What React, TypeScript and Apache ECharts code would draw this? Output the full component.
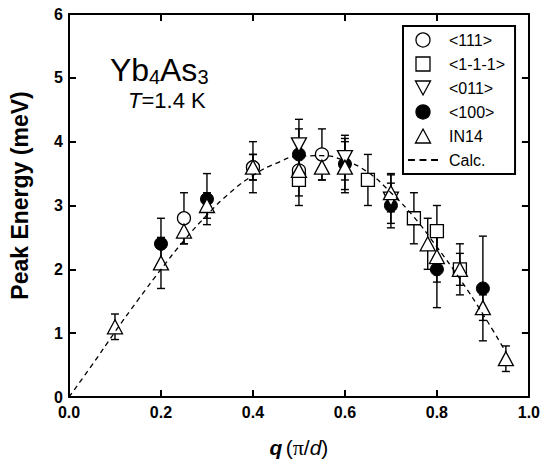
import React, { useEffect, useRef } from 'react';
import * as echarts from 'echarts';

const FONT = 'Liberation Sans, Arial, Helvetica, sans-serif';

// axis ticks
const xTickLabels = ['0.0', '0.2', '0.4', '0.6', '0.8', '1.0'];
const yTickLabels = ['0', '1', '2', '3', '4', '5', '6'];

// <111>
const q111 = [0.25, 0.4, 0.5, 0.55];
const E111 = [2.8, 3.6, 3.55, 3.8];
const err111 = [0.4, 0.4, 0.4, 0.4];

// <1-1-1>
const q1m1m1 = [0.5, 0.65, 0.75, 0.8, 0.85];
const E1m1m1 = [3.4, 3.4, 2.8, 2.6, 2.0];
const err1m1m1 = [0.4, 0.4, 0.4, 0.4, 0.4];

// <011>
const q011 = [0.5, 0.6, 0.7];
const E011 = [3.95, 3.75, 3.1];
const err011 = [0.4, 0.35, 0.38];

// <100>
const q100 = [0.2, 0.3, 0.4, 0.5, 0.6, 0.7, 0.8, 0.9];
const E100 = [2.4, 3.1, 3.6, 3.8, 3.65, 3.0, 2.0, 1.7];
const err100 = [0.4, 0.4, 0.2, 0.4, 0.4, 0.35, 0.6, 0.82];

// IN14
const qIN14 = [0.1, 0.2, 0.25, 0.3, 0.4, 0.5, 0.55, 0.6, 0.7, 0.78, 0.8, 0.85, 0.9, 0.95];
const EIN14 = [1.1, 2.1, 2.6, 3.0, 3.6, 3.55, 3.6, 3.6, 3.2, 2.4, 2.2, 2.0, 1.4, 0.6];
const errIN14 = [0.2, 0.4, 0.2, 0.2, 0.2, 0.2, 0.2, 0.4, 0.3, 0.4, 0.4, 0.25, 0.2, 0.2];

// Calc. (dashed)
const qCalc = [0, 0.05, 0.1, 0.15, 0.2, 0.25, 0.3, 0.35, 0.4, 0.45, 0.5, 0.55, 0.6, 0.65, 0.7, 0.75, 0.8, 0.85, 0.9, 0.95];
const ECalc = [0, 0.5, 1.02, 1.52, 2.0, 2.45, 2.85, 3.2, 3.47, 3.66, 3.77, 3.78, 3.7, 3.52, 3.2, 2.82, 2.35, 1.85, 1.3, 0.7];

const legendNames = ['<111>', '<1-1-1>', '<011>', '<100>', 'IN14', 'Calc.'];

const renderErr = (params: any, api: any) => {
  const x = api.value(0);
  const lo = api.value(1);
  const hi = api.value(2);
  const p1 = api.coord([x, hi]);
  const p2 = api.coord([x, lo]);
  const w = 4;
  const style = { stroke: '#000', lineWidth: 1.4 };
  return {
    type: 'group',
    children: [
      { type: 'line', shape: { x1: p1[0], y1: p1[1], x2: p2[0], y2: p2[1] }, style },
      { type: 'line', shape: { x1: p1[0] - w, y1: p1[1], x2: p1[0] + w, y2: p1[1] }, style },
      { type: 'line', shape: { x1: p2[0] - w, y1: p2[1], x2: p2[0] + w, y2: p2[1] }, style },
    ],
  };
};

const errSeries = (name: string, qs: number[], Es: number[], errs: number[]) => ({
  type: 'custom',
  name,
  silent: true,
  renderItem: renderErr,
  data: qs.map((q, i) => [q, Es[i] - errs[i], Es[i] + errs[i]]),
  encode: { x: 0, y: [1, 2] },
});

const openStyle = { color: '#fff', borderColor: '#000', borderWidth: 1.3, opacity: 1 };

const scatter = (name: string, qs: number[], Es: number[], symbol: string, size: any, itemStyle: any, rotate = 0) => ({
  type: 'scatter',
  name,
  symbol,
  symbolSize: size,
  symbolRotate: rotate,
  itemStyle,
  silent: true,
  data: qs.map((q, i) => [q, Es[i]]),
});

const axisLine = { show: true, onZero: false, lineStyle: { color: '#000', width: 2 } };
const axisTick = { show: true, inside: true, length: 7, lineStyle: { color: '#000', width: 2 } };

const option: any = {
  animation: false,
  backgroundColor: '#fff',
  grid: { left: 69, right: 13, top: 14, bottom: 69, containLabel: false },
  xAxis: [
    {
      type: 'value', min: 0, max: 1, interval: 0.2, position: 'bottom',
      axisLine, axisTick, splitLine: { show: false },
      axisLabel: {
        formatter: (v: number) => xTickLabels[Math.round(v / 0.2)],
        color: '#000', fontWeight: 'bold', fontSize: 16, fontFamily: FONT, margin: 8, lineHeight: 14,
      },
      name: '{qb|q} {n|(}{pi|π}{n|/}{d|d}{n|)}',
      nameLocation: 'middle',
      nameGap: 39,
      nameTextStyle: {
        rich: {
          qb: { fontSize: 21, fontWeight: 'bold', fontStyle: 'italic', fontFamily: FONT, color: '#000' },
          n: { fontSize: 21, fontFamily: FONT, color: '#000' },
          pi: { fontSize: 22, fontFamily: 'Liberation Serif, serif', color: '#000' },
          d: { fontSize: 21, fontStyle: 'italic', fontFamily: FONT, color: '#000' },
        },
      },
    },
    {
      type: 'value', min: 0, max: 1, interval: 0.2, position: 'top',
      axisLine, axisTick, splitLine: { show: false }, axisLabel: { show: false },
    },
  ],
  yAxis: [
    {
      type: 'value', min: 0, max: 6, interval: 1, position: 'left',
      axisLine, axisTick, splitLine: { show: false },
      axisLabel: {
        formatter: (v: number) => yTickLabels[Math.round(v)],
        color: '#000', fontWeight: 'bold', fontSize: 16, fontFamily: FONT, margin: 6, lineHeight: 14,
      },
      name: 'Peak Energy (meV)',
      nameLocation: 'middle',
      nameRotate: 90,
      nameGap: 38,
      nameTextStyle: { fontSize: 23, fontWeight: 'bold', fontFamily: FONT, color: '#000', padding: [0, 0, 0, 20] },
    },
    {
      type: 'value', min: 0, max: 6, interval: 1, position: 'right',
      axisLine, axisTick, splitLine: { show: false }, axisLabel: { show: false },
    },
  ],
  legend: {
    orient: 'vertical',
    left: 403,
    top: 26,
    padding: [6, 10, 6, 5],
    itemWidth: 30,
    itemHeight: 14,
    itemGap: 8,
    borderColor: '#000',
    borderWidth: 2,
    borderRadius: 0,
    backgroundColor: '#fff',
    selectedMode: false,
    itemStyle: { borderWidth: 1.3 },
    textStyle: { fontSize: 16, color: '#000', fontFamily: FONT, padding: [0, 0, 0, 6] },
    data: [
      { name: legendNames[0], icon: 'circle' },
      { name: legendNames[1], icon: 'path://M0,0H10V10H0Z' },
      { name: legendNames[2], icon: 'path://M0,0L14,0L7,13Z' },
      { name: legendNames[3], icon: 'circle' },
      { name: legendNames[4], icon: 'path://M7,0L14,13L0,13Z' },
      { name: legendNames[5], icon: 'path://M0,0H6V1.6H0Z M10,0H16V1.6H10Z M20,0H26V1.6H20Z', itemStyle: { borderWidth: 0 } },
    ],
  },
  graphic: [
    { type: 'text', x: 110, y: 70, style: { text: 'Yb', fontSize: 32, fontFamily: FONT, fill: '#000', verticalAlign: 'middle', lineHeight: 30 } },
    { type: 'text', x: 149, y: 77, style: { text: '4', fontSize: 20, fontFamily: FONT, fill: '#000', verticalAlign: 'middle', lineHeight: 14 } },
    { type: 'text', x: 160, y: 70, style: { text: 'As', fontSize: 32, fontFamily: FONT, fill: '#000', verticalAlign: 'middle', lineHeight: 30 } },
    { type: 'text', x: 197.5, y: 77, style: { text: '3', fontSize: 20, fontFamily: FONT, fill: '#000', verticalAlign: 'middle', lineHeight: 14 } },
    {
      type: 'text',
      x: 128,
      y: 100,
      style: {
        text: '{i|T}{n|=1.4 K}',
        verticalAlign: 'middle',
        rich: {
          i: { fontSize: 22, fontStyle: 'italic', fontFamily: FONT, fill: '#000', lineHeight: 20 },
          n: { fontSize: 22, fontFamily: FONT, fill: '#000', lineHeight: 20 },
        },
      },
    },
  ],
  series: [
    {
      type: 'line',
      name: legendNames[5],
      data: qCalc.map((q, i) => [q, ECalc[i]]),
      smooth: true,
      symbol: 'none',
      color: '#000',
      itemStyle: { color: '#000' },
      lineStyle: { color: '#000', width: 1.3, type: [5, 4] },
      silent: true,
    },
    errSeries('err100', q100, E100, err100),
    scatter(legendNames[3], q100, E100, 'circle', 13, { color: '#000', borderColor: '#000', borderWidth: 1, opacity: 1 }),
    errSeries('err111', q111, E111, err111),
    scatter(legendNames[0], q111, E111, 'circle', 13, openStyle),
    errSeries('err1m1m1', q1m1m1, E1m1m1, err1m1m1),
    scatter(legendNames[1], q1m1m1, E1m1m1, 'rect', 13, openStyle),
    errSeries('err011', q011, E011, err011),
    scatter(legendNames[2], q011, E011, 'triangle', [15, 14], openStyle, 180),
    errSeries('errIN14', qIN14, EIN14, errIN14),
    scatter(legendNames[4], qIN14, EIN14, 'triangle', [15, 14], openStyle),
  ],
};

export default function App() {
  const ref = useRef<HTMLDivElement>(null);
  useEffect(() => {
    const chart = echarts.init(ref.current!, null, { renderer: 'svg' });
    chart.setOption(option);
    return () => chart.dispose();
  }, []);
  return (
    <div
      ref={ref}
      style={{ position: 'absolute', left: 0, top: 0, width: 543, height: 466 }}
    />
  );
}
